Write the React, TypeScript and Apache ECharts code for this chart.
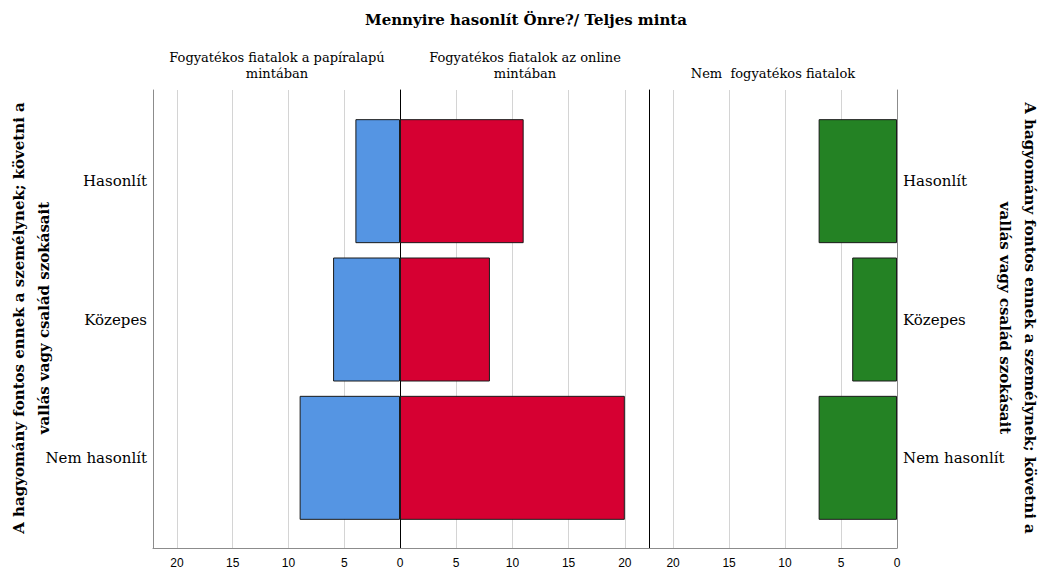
import React, { useEffect, useRef } from "react";
import * as echarts from "echarts";

const categories = ["Hasonlít", "Közepes", "Nem hasonlít"];
const paperValues = [4, 6, 9];
const onlineValues = [11, 8, 20];
const nonDisabledValues = [7, 4, 7];

const mainTitle = "Mennyire hasonlít Önre?/ Teljes minta";
const panelTitles = [
  "Fogyatékos fiatalok a papíralapú\nmintában",
  "Fogyatékos fiatalok az online\nmintában",
  "Nem  fogyatékos fiatalok",
];
const axisTitle = "A hagyomány fontos ennek a személynek; követni a\nvallás vagy család szokásait";

const AXIS_MAX = 22.15;
const TICK_INTERVAL = 5;

const SERIF = "DejaVu Serif";
const SANS = "Liberation Sans";

export default function App() {
  const ref = useRef<HTMLDivElement>(null);

  useEffect(() => {
    if (!ref.current) return;
    const chart = echarts.init(ref.current, undefined, { renderer: "svg" });

    const panels = [
      { left: 153, width: 247, inverse: true, showZero: true },
      { left: 400, width: 249, inverse: false, showZero: false },
      { left: 649, width: 248, inverse: true, showZero: true },
    ];

    const grids: any[] = [];
    panels.forEach((p) => grids.push({ left: p.left, width: p.width, top: 90, height: 458 }));
    panels.forEach((p) => grids.push({ left: p.left, width: p.width, top: 112, height: 415 }));

    const xAxes: any[] = [];
    panels.forEach((p, i) =>
      xAxes.push({
        type: "value",
        gridIndex: i,
        min: 0,
        max: AXIS_MAX,
        interval: TICK_INTERVAL,
        inverse: p.inverse,
        axisLine: { show: true, onZero: false, lineStyle: { color: "#8c8c8c", width: 1 } },
        axisTick: { show: false },
        axisLabel: {
          color: "#000",
          fontFamily: SANS,
          fontSize: 12,
          margin: 9,
          showMinLabel: p.showZero,
          formatter: (v: number) =>
            v % TICK_INTERVAL === 0 && (v !== 0 || p.showZero) ? String(v) : "",
        },
        splitLine: { show: true, lineStyle: { color: "#d4d4d4", width: 1 } },
      })
    );
    panels.forEach((p, i) =>
      xAxes.push({
        type: "value",
        gridIndex: i + 3,
        min: 0,
        max: AXIS_MAX,
        inverse: p.inverse,
        show: false,
      })
    );

    const bgY = (gridIndex: number, position: string, color: string) => ({
      type: "value",
      gridIndex,
      min: 0,
      max: 1,
      position,
      axisLine: { show: true, onZero: false, lineStyle: { color, width: 1 } },
      axisTick: { show: false },
      axisLabel: { show: false },
      splitLine: { show: false },
    });

    const catY = (gridIndex: number, position: string, showLabel: boolean) => ({
      type: "category",
      gridIndex,
      data: categories,
      inverse: true,
      position,
      axisLine: { show: false },
      axisTick: { show: false },
      splitLine: { show: false },
      axisLabel: {
        show: showLabel,
        color: "#000",
        fontFamily: SERIF,
        fontSize: 15,
        margin: 6,
      },
    });

    const yAxes: any[] = [
      bgY(0, "left", "#8c8c8c"),
      bgY(1, "left", "#000"),
      bgY(2, "left", "#000"),
      bgY(2, "right", "#8c8c8c"),
      catY(3, "left", true),
      catY(4, "left", false),
      catY(5, "right", true),
    ];

    const barSeries = (xi: number, yi: number, data: number[], color: string) => ({
      type: "bar",
      xAxisIndex: xi,
      yAxisIndex: yi,
      data,
      barWidth: 124,
      itemStyle: { color, borderColor: "#1a1a1a", borderWidth: 1 },
      z: 3,
    });

    const panelCenters = [277, 525, 773];

    const option: any = {
      animation: false,
      backgroundColor: "#fff",
      textStyle: { fontFamily: SERIF },
      grid: grids,
      xAxis: xAxes,
      yAxis: yAxes,
      series: [
        barSeries(3, 4, paperValues, "#5595e3"),
        barSeries(4, 5, onlineValues, "#d60032"),
        barSeries(5, 6, nonDisabledValues, "#248224"),
      ],
      graphic: [
        {
          type: "text",
          x: 526,
          y: 20,
          style: {
            text: mainTitle,
            fontFamily: SERIF,
            fontWeight: "bold",
            fontSize: 15,
            fill: "#000",
            align: "center",
            verticalAlign: "middle",
          },
        },
        ...panelTitles.map((t, i) => ({
          type: "text",
          x: panelCenters[i],
          y: 81,
          style: {
            text: t,
            fontFamily: SERIF,
            fontSize: 13,
            fill: "#000",
            align: "center",
            verticalAlign: "bottom",
            lineHeight: 16,
          },
        })),
        {
          type: "text",
          x: 31,
          y: 318,
          rotation: Math.PI / 2,
          style: {
            text: axisTitle,
            fontFamily: SERIF,
            fontWeight: "bold",
            fontSize: 15,
            fill: "#000",
            align: "center",
            verticalAlign: "middle",
            lineHeight: 25,
          },
        },
        {
          type: "text",
          x: 1017,
          y: 318,
          rotation: -Math.PI / 2,
          style: {
            text: axisTitle,
            fontFamily: SERIF,
            fontWeight: "bold",
            fontSize: 15,
            fill: "#000",
            align: "center",
            verticalAlign: "middle",
            lineHeight: 25,
          },
        },
      ],
    };

    chart.setOption(option);
    return () => chart.dispose();
  }, []);

  return (
    <div
      ref={ref}
      style={{ width: 1041, height: 572, position: "absolute", left: 0, top: 0 }}
    />
  );
}
